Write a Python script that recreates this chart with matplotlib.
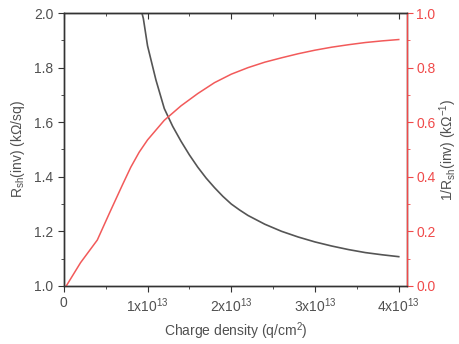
import matplotlib
matplotlib.use("Agg")
import matplotlib.pyplot as plt
from matplotlib.ticker import MultipleLocator

plt.rcParams['font.family'] = ['Liberation Sans', 'DejaVu Sans']
plt.rcParams['mathtext.default'] = 'regular'

# Charge density in units of 1e13 q/cm^2
x_red = [0.03, 0.2, 0.4, 0.55, 0.7, 0.8, 0.9, 1.0, 1.2, 1.4, 1.6, 1.8, 2.0,
         2.2, 2.4, 2.6, 2.8, 3.0, 3.2, 3.4, 3.6, 3.8, 4.0]
inv_rsh = [0.0, 0.085, 0.168, 0.27, 0.37, 0.435, 0.49, 0.535, 0.607, 0.66,
           0.705, 0.745, 0.776, 0.80, 0.82, 0.836, 0.851, 0.864, 0.875,
           0.884, 0.892, 0.898, 0.903]

x_black = [0.9, 0.95, 1.0, 1.1, 1.2, 1.3, 1.4, 1.5, 1.6, 1.7, 1.8, 1.9, 2.0,
           2.1, 2.2, 2.4, 2.6, 2.8, 3.0, 3.2, 3.4, 3.6, 3.8, 4.0]
rsh = [2.04, 1.98, 1.88, 1.755, 1.65, 1.585, 1.53, 1.48, 1.435, 1.395, 1.36,
       1.328, 1.30, 1.278, 1.258, 1.226, 1.20, 1.179, 1.161, 1.146, 1.133,
       1.122, 1.114, 1.107]

x_ticks = [0, 1, 2, 3, 4]
x_labels = ["0", "1x10$^{13}$", "2x10$^{13}$", "3x10$^{13}$", "4x10$^{13}$"]

gray = '#505050'
red_axis = '#f04a4a'
red_line = '#f25a5a'
fs = 10

fig = plt.figure(figsize=(4.59, 3.44), dpi=100)
ax = fig.add_axes([0.139, 0.169, 0.748, 0.793])
ax2 = ax.twinx()

ax.plot(x_black, rsh, color='#555555', lw=1.2, zorder=3)
ax2.plot(x_red, inv_rsh, color=red_line, lw=1.1)

ax.set_xlim(0, 4.1)
ax.set_ylim(1.0, 2.0)
ax2.set_ylim(0.0, 1.0)

ax.set_xticks(x_ticks)
ax.set_xticklabels(x_labels)
ax.xaxis.set_minor_locator(MultipleLocator(0.5))
ax.yaxis.set_major_locator(MultipleLocator(0.2))
ax.yaxis.set_minor_locator(MultipleLocator(0.1))
ax2.yaxis.set_major_locator(MultipleLocator(0.2))
ax2.yaxis.set_minor_locator(MultipleLocator(0.1))
ax.yaxis.set_major_formatter(plt.FormatStrFormatter('%.1f'))
ax2.yaxis.set_major_formatter(plt.FormatStrFormatter('%.1f'))

# top axis ticks point inward
top = ax.secondary_xaxis('top')
top.set_xticks(x_ticks)
top.xaxis.set_minor_locator(MultipleLocator(0.5))
top.tick_params(axis='x', which='both', direction='in', labeltop=False,
                color='#333333')
top.tick_params(axis='x', which='major', length=4)
top.tick_params(axis='x', which='minor', length=2.5)
top.spines['top'].set_color('#333333')

for a in (ax, ax2):
    for s in a.spines.values():
        s.set_color('#333333')
        s.set_linewidth(1.0)
ax2.spines['right'].set_color(red_axis)

ax.tick_params(axis='x', which='both', direction='out', color='#333333',
               labelcolor=gray, labelsize=fs)
ax.tick_params(axis='x', which='major', length=4)
ax.tick_params(axis='x', which='minor', length=2.5)
ax.tick_params(axis='y', which='both', direction='out', color='#333333',
               labelcolor=gray, labelsize=fs)
ax.tick_params(axis='y', which='major', length=4)
ax.tick_params(axis='y', which='minor', length=2.5)
ax2.tick_params(axis='y', which='both', direction='out', color=red_axis,
                labelcolor=red_axis, labelsize=fs, pad=2.5)
ax2.tick_params(axis='y', which='major', length=4)
ax2.tick_params(axis='y', which='minor', length=2.5)

ax.set_xlabel("Charge density (q/cm$^{2}$)", color=gray, fontsize=fs,
              labelpad=4)
ax.set_ylabel("R$_{sh}$(inv) (kΩ/sq)", color=gray, fontsize=fs, labelpad=5)
ax2.set_ylabel("1/R$_{sh}$(inv) (kΩ$^{-1}$)", color=gray, fontsize=fs,
               labelpad=1)

fig.savefig("out.png", dpi=100)
